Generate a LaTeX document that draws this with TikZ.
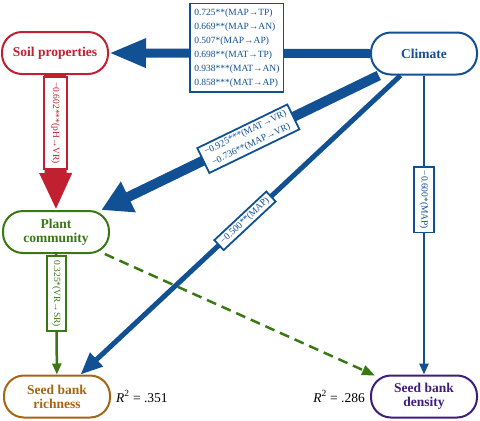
\documentclass[tikz,border=0pt]{standalone}
\usepackage{fontspec}
\setmainfont{Liberation Serif}
\usetikzlibrary{arrows.meta}
\definecolor{cblue}{RGB}{18,80,148}
\definecolor{cred}{RGB}{192,32,48}
\definecolor{cgreen}{RGB}{58,120,20}
\definecolor{cbrown}{RGB}{168,100,20}
\definecolor{cpurple}{RGB}{62,30,124}
\begin{document}
\begin{tikzpicture}[x=1pt,y=-1pt,
  mainnode/.style={draw=#1, text=#1, fill=white, line width=2pt, rounded corners=20pt, minimum width=106pt, minimum height=42pt, font=\fontsize{13.5}{14}\selectfont\bfseries, align=center, inner sep=0pt},
  lbl/.style={draw=#1, text=#1, fill=white, line width=1.8pt, font=\fontsize{9.5}{13}\selectfont, align=center, inner sep=3pt},
  rtext/.style={font=\fontsize{13.5}{14}\selectfont, inner sep=0pt},
]
\useasboundingbox (0,0) rectangle (480,421);
\node[mainnode=cred] (soil) at (55,53) {Soil properties};
\node[mainnode=cblue] (climate) at (424,53.5) {Climate};
\node[mainnode=cgreen] (plant) at (56,232) {Plant\\community};
\node[mainnode=cbrown] (rich) at (57,396.5) {Seed bank\\richness};
\node[mainnode=cpurple] (dens) at (424,396.5) {Seed bank\\density};

% climate -> soil
\draw[draw=cblue, fill=cblue, line width=9pt, -{Triangle[length=37pt,width=27pt]}] (climate.west) -- node[lbl=cblue, pos=0.51, yshift=5.5pt, align=left, inner xsep=4pt, inner ysep=5pt, font=\fontsize{9.5}{14}\selectfont]
  {0.725**(MAP→TP)\\0.669**(MAP→AN)\\0.507*(MAP→AP)\\0.698**(MAT→TP)\\0.938***(MAT→AN)\\0.858***(MAT→AP)} (soil.east);

% soil -> plant
\draw[draw=cred, line width=22pt, -{Triangle[length=37pt,width=30pt]}] (soil.south) -- node[lbl=cred, pos=0.357, rotate=-90, inner xsep=5pt, inner ysep=7pt] {−0.602***(pH→VR)} (plant.north);

% climate -> plant
\draw[draw=cblue, line width=10pt, -{Triangle[length=30pt,width=32pt]}] (climate) -- node[lbl=cblue, sloped, pos=0.47, inner xsep=5pt, inner ysep=3pt] {−0.925***(MAT→VR)\\−0.736**(MAP→VR)} (plant);

% climate -> richness
\draw[draw=cblue, line width=5pt, -{Triangle[length=22pt,width=18pt]}] (climate) -- node[lbl=cblue, sloped, pos=0.486, inner xsep=4pt, inner ysep=2.5pt] {−0.500**(MAP)} (rich);

% climate -> density
\draw[draw=cblue, line width=2.5pt, -{Triangle[length=11pt,width=9pt]}] (climate) -- node[lbl=cblue, pos=0.416, rotate=-90, inner xsep=3.5pt, inner ysep=6pt] {−0.600*(MAP)} (dens);

% plant -> richness
\draw[draw=cgreen, line width=2.5pt, -{Triangle[length=11pt,width=9pt]}] (plant) -- node[lbl=cgreen, pos=0.33, rotate=-90, inner xsep=4pt, inner ysep=5pt] {0.325*(VR→SR)} (rich);

% plant -> density (dashed)
\draw[draw=cgreen, line width=2.5pt, dash pattern=on 10pt off 6pt, -{Triangle[length=13pt,width=10pt]}] (plant) -- ([xshift=5pt,yshift=-1pt]dens.north west);

\node[rtext, anchor=west] (r1) at ([xshift=5pt]rich.east) {\textit{R}\textsuperscript{2} = .351};
\node[rtext, anchor=east] (r2) at ([xshift=-5pt]dens.west) {\textit{R}\textsuperscript{2} = .286};
\end{tikzpicture}
\end{document}
